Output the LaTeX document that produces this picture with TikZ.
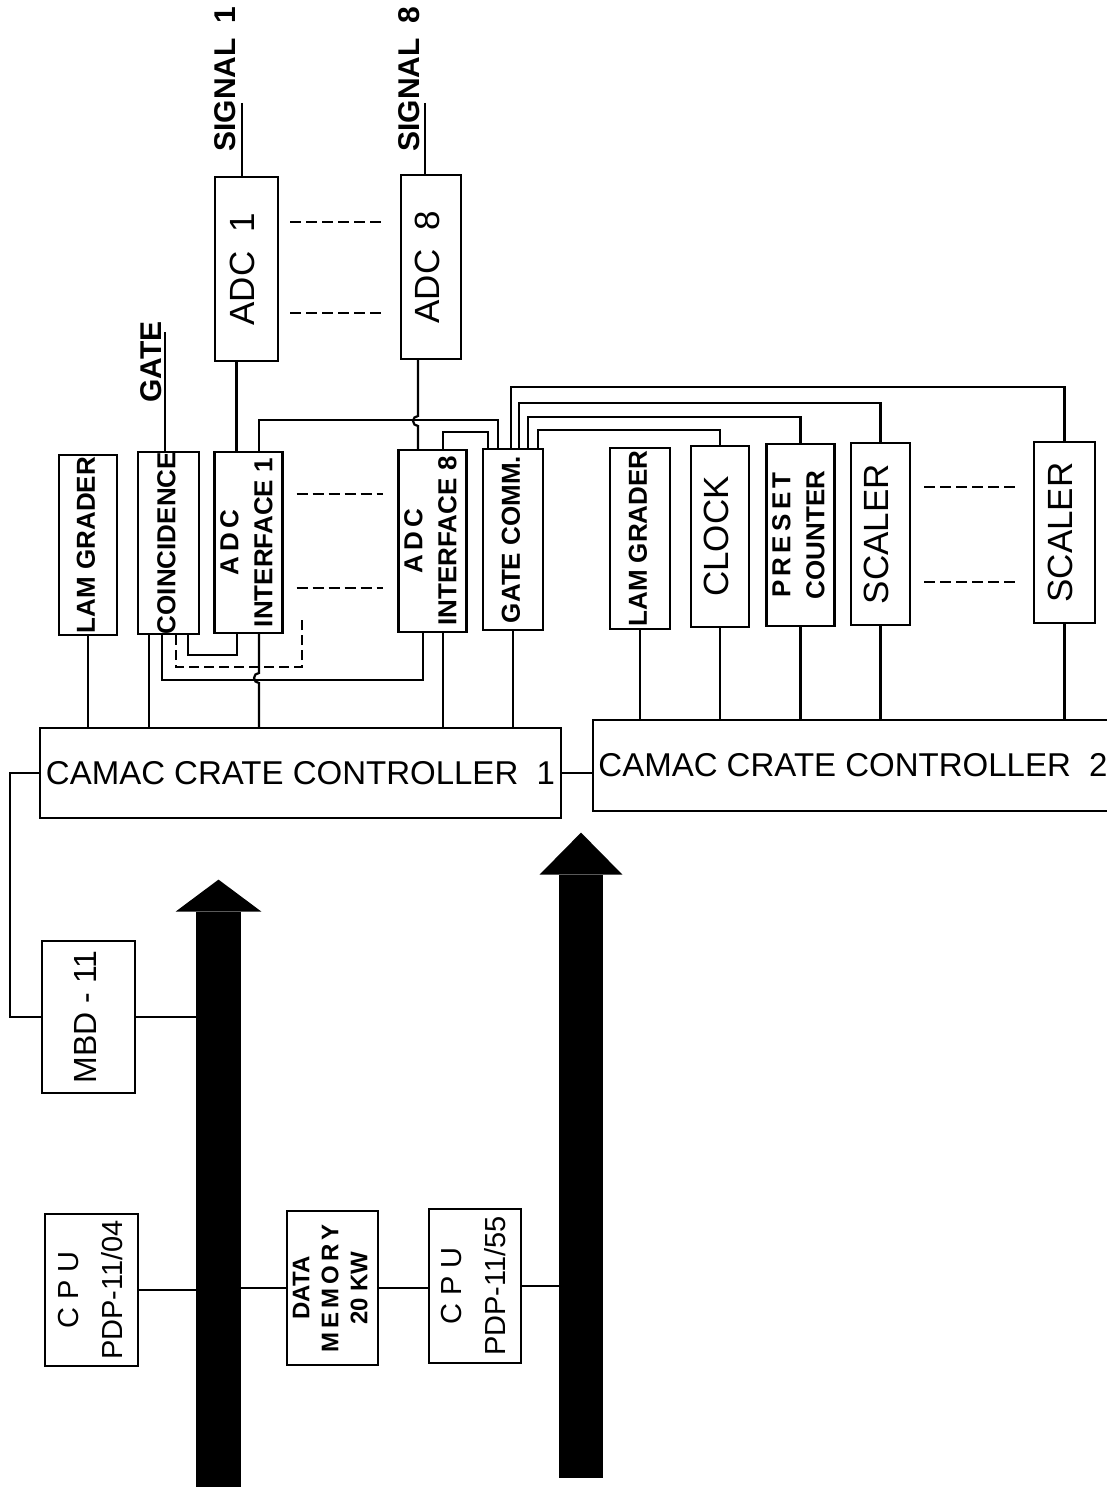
\documentclass[tikz,border=0pt]{standalone}
\usepackage{fontspec}
\setmainfont{Liberation Sans}
\definecolor{ink}{HTML}{000000}
\newcommand{\vtext}[1]{\rotatebox{90}{\begin{tabular}{@{}c@{}}#1\end{tabular}}}
\tikzset{
  size/.style n args={2}{minimum width=#1*0.5pt, minimum height=#2*0.5pt},
  modul/.style={
    draw=ink,
    line width=1.1pt,
    inner sep=0pt,
    font=\bfseries\fontsize{13}{17}\selectfont
  },
  big/.style={font=\mdseries\fontsize{17.5}{21}\selectfont},
  mid/.style={font=\mdseries\fontsize{14.5}{22}\selectfont},
  crate/.style={modul, font=\mdseries\fontsize{16.5}{20}\selectfont},
  lbl/.style={rotate=90, inner sep=0pt, font=\bfseries\fontsize{15}{18}\selectfont},
  wire/.style={draw=ink, line width=1.1pt},
  skip/.style={draw=ink, line width=1pt, dash pattern=on 5.5pt off 2.5pt},
  bus/.style={fill=ink, draw=none, inner sep=0pt}
}

\begin{document}
\begin{tikzpicture}[x=0.5pt,y=-0.5pt]
  \useasboundingbox (0,0) rectangle (1107,1487);
  \clip (0,0) rectangle (1107,1487);

  % ADCs and their inputs
  \node[modul, big, size={63}{184}] (adc1) at (246.5,269) {\vtext{ADC\ \ 1}};
  \node[modul, big, size={60}{184}] (adc8) at (431,267) {\vtext{ADC\ \ 8}};
  \coordinate (sig1) at (242,103);
  \coordinate (sig8) at (425,103);
  \coordinate (gatein) at (165,332);
  \node[lbl, anchor=south west] (sig1txt) at (236,152) {SIGNAL\enspace 1};
  \node[lbl, anchor=south west] (sig8txt) at (420,152) {SIGNAL\enspace 8};
  \node[lbl, anchor=south west] (gatetxt) at (162,403) {GATE};

  % crate 1 modules
  \node[modul, size={58}{180}] (lam1) at (88,545) {\vtext{LAM GRADER}};
  \node[modul, size={61}{180}] (coinc) at (168.5,543) {\vtext{COINCIDENCE}};
  \node[modul, size={61}{181}] (if1) at (248.5,542.5) {\vtext{A\,D\,C\\INTERFACE 1}};
  \node[modul, size={61}{182}] (if8) at (432.5,541) {\vtext{A\,D\,C\\INTERFACE 8}};
  \node[modul, size={60}{181}] (gcomm) at (513,539.5) {\vtext{GATE COMM.}};

  % crate 2 modules
  \node[modul, size={60}{181}] (lam2) at (640,538.5) {\vtext{LAM GRADER}};
  \node[modul, big, size={58}{181}] (clock) at (720,536.5) {\vtext{CLOCK}};
  \node[modul, size={61}{182}] (preset) at (800.5,535) {\vtext{P\,R\,E\,S\,E\,T\\COUNTER}};
  \node[modul, big, size={59}{182}] (scaler1) at (880.5,534) {\vtext{SCALER}};
  \node[modul, big, size={61}{181}] (scaler2) at (1064.5,532.5) {\vtext{SCALER}};

  \node[crate, size={521}{90}] (crate1) at (300.5,773) {CAMAC CRATE CONTROLLER\ \ 1};
  \node[crate, size={520}{91}] (crate2) at (853,765.5) {CAMAC CRATE CONTROLLER\ \ 2};

  % computers
  \node[modul, font=\mdseries\fontsize{16}{20}\selectfont, size={93}{152}] (mbd) at (88.5,1017) {\vtext{MBD - 11}};
  \node[modul, mid, size={93}{152}] (cpu04) at (91.5,1290) {\vtext{C P U\\PDP-11/04}};
  \node[modul, font=\bfseries\fontsize{12}{14.5}\selectfont, size={91}{154}] (mem) at (332.5,1288) {\vtext{DATA\\M\,E\,M\,O\,R\,Y\\20 KW}};
  \node[modul, mid, size={92}{154}] (cpu55) at (475,1286) {\vtext{C P U\\PDP-11/55}};

  % unibus arrows
  \node[bus, size={45}{578}] (busA) at (218.5,1201) {};
  \node[bus, size={44}{603}] (busB) at (581,1176.5) {};
  \fill[ink] ([xshift=-10pt]busA.north west) -- ([yshift=16pt]busA.north) -- ([xshift=10pt]busA.north east) -- cycle;
  \fill[ink] ([xshift=-9.5pt]busB.north west) -- ([yshift=21pt]busB.north) -- ([xshift=9.5pt]busB.north east) -- cycle;

  % inputs
  \draw[wire] (sig1) -- (sig1 |- adc1.north);
  \draw[wire] (sig8) -- (sig8 |- adc8.north);
  \draw[wire] (gatein) -- (gatein |- coinc.north);

  % ADC to interface
  \coordinate (hopA) at (418,421);
  \coordinate (hopB) at (259,678);
  \draw[wire] ([xshift=-5pt]adc1.south) -- ([xshift=-5pt]adc1.south |- if1.north);
  \draw[wire] ([xshift=-6.5pt]adc8.south) -- ([yshift=2.5pt]hopA) arc[start angle=90, end angle=270, radius=2.5pt]
    -- ([xshift=-6.5pt]adc8.south |- if8.north);

  % gate lines over the top
  \draw[wire] ([xshift=5.25pt]if1.north) -- ++(0,-31) -| ([xshift=-7.5pt]gcomm.north);
  \draw[wire] ([xshift=5.25pt]if8.north) -- ++(0,-17) -| ([xshift=-12.5pt]gcomm.north);
  \foreach \dx/\rise/\dest in {-1/61/scaler2, 3/45/scaler1, 7.5/31/preset, 12.5/18/clock}
    \draw[wire] ([xshift=\dx pt]gcomm.north) -- ++(0,-\rise) -| (\dest.north);

  % lines under crate 1 modules
  \coordinate (dashend) at (302,618);
  \draw[wire] (lam1.south) -- (lam1.south |- crate1.north);
  \draw[wire] ([xshift=-9.75pt]coinc.south) -- ([xshift=-9.75pt]coinc.south |- crate1.north);
  \draw[wire] ([xshift=-3.25pt]coinc.south) -- ++(0,45) -| ([xshift=-4.75pt]if8.south);
  \draw[wire, dash pattern=on 5pt off 2.5pt] ([xshift=3.75pt]coinc.south) -- ++(0,32) -| (dashend);
  \draw[wire] ([xshift=9.75pt]coinc.south) -- ++(0,20) -| ([xshift=-5.75pt]if1.south);
  \draw[wire] ([xshift=5.25pt]if1.south) -- ([yshift=2.5pt]hopB) arc[start angle=90, end angle=270, radius=2.5pt]
    -- ([xshift=5.25pt]if1.south |- crate1.north);
  \draw[wire] ([xshift=5.25pt]if8.south) -- ([xshift=5.25pt]if8.south |- crate1.north);
  \draw[wire] (gcomm.south) -- (gcomm.south |- crate1.north);
  \foreach \n in {lam2,clock,preset,scaler1,scaler2}
    \draw[wire] (\n.south) -- (\n.south |- crate2.north);

  % more of the same
  \foreach \y in {222,313}
    \draw[skip, shorten <=5.5pt, shorten >=7pt] (adc1.east |- 0,\y) -- (adc8.west |- 0,\y);
  \foreach \y in {494,588}
    \draw[skip, shorten <=6.5pt, shorten >=7pt] (if1.east |- 0,\y) -- (if8.west |- 0,\y);
  \foreach \y in {487,582}
    \draw[skip, shorten <=6.5pt, shorten >=7pt] (scaler1.east |- 0,\y) -- (scaler2.west |- 0,\y);

  % crates and computers
  \draw[wire] (crate1.east) -- (crate1.east -| crate2.west);
  \draw[wire] (crate1.west) -- ++(-29,0) |- (mbd.west);
  \draw[wire] (mbd.east) -- (mbd.east -| busA.west);
  \draw[wire] (cpu04.east) -- (cpu04.east -| busA.west);
  \draw[wire] (mem.west -| busA.east) -- (mem.west);
  \draw[wire] (mem.east) -- (mem.east -| cpu55.west);
  \draw[wire] (cpu55.east) -- (cpu55.east -| busB.west);
\end{tikzpicture}
\end{document}
